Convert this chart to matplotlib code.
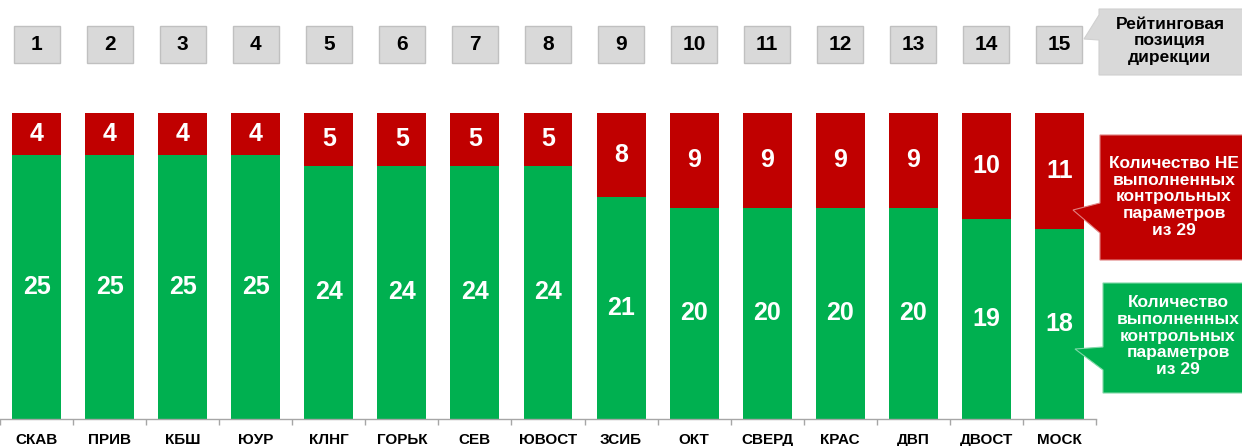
import matplotlib
matplotlib.use("Agg")
import matplotlib.pyplot as plt
from matplotlib.patches import Rectangle, Polygon
import matplotlib.transforms as mtransforms
import numpy as np

plt.rcParams['font.family'] = ['Liberation Sans', 'DejaVu Sans']

categories = ["СКАВ", "ПРИВ", "КБШ", "ЮУР", "КЛНГ", "ГОРЬК", "СЕВ", "ЮВОСТ",
              "ЗСИБ", "ОКТ", "СВЕРД", "КРАС", "ДВП", "ДВОСТ", "МОСК"]
done = [25, 25, 25, 25, 24, 24, 24, 24, 21, 20, 20, 20, 20, 19, 18]
not_done = [4, 4, 4, 4, 5, 5, 5, 5, 8, 9, 9, 9, 9, 10, 11]
ranks = [1, 2, 3, 4, 5, 6, 7, 8, 9, 10, 11, 12, 13, 14, 15]

legend_rank = "Рейтинговая\nпозиция\nдирекции"
legend_red = "Количество НЕ\nвыполненных\nконтрольных\nпараметров\nиз 29"
legend_green = "Количество\nвыполненных\nконтрольных\nпараметров\nиз 29"

GREEN = "#00b050"
RED = "#c00000"
GREY = "#d9d9d9"

W, H = 1242, 446
fig = plt.figure(figsize=(W / 100, H / 100), dpi=100)

# main axes: baseline at y=419 px, right edge at x=1096 px
ax = fig.add_axes([0, (H - 419) / H, 1096 / W, 419 / H])
px_per_unit = 306 / 29.0
ax.set_ylim(0, 419 / px_per_unit)
ax.set_xlim(-0.5, len(categories) - 0.5)

x = np.arange(len(categories))
bw = 0.67
ax.bar(x, done, width=bw, color=GREEN, edgecolor="none")
ax.bar(x, not_done, width=bw, bottom=done, color=RED, edgecolor="none")

for xi, d, n in zip(x, done, not_done):
    ax.text(xi, d / 2, str(d), ha="center", va="center", color="white",
            fontsize=18, fontweight="bold")
    ax.text(xi, d + n / 2, str(n), ha="center", va="center", color="white",
            fontsize=18, fontweight="bold")

trans = mtransforms.blended_transform_factory(ax.transData, ax.transAxes)

# rank boxes
y0 = (419 - 63) / 419
y1 = (419 - 26) / 419
rw = 0.63
for xi, r in zip(x, ranks):
    ax.add_patch(Rectangle((xi - rw / 2, y0), rw, y1 - y0, transform=trans,
                           facecolor=GREY, edgecolor="#c0c0c0", linewidth=1,
                           clip_on=False))
    ax.text(xi, (y0 + y1) / 2, str(r), transform=trans, ha="center",
            va="center", fontsize=15, fontweight="bold", color="black")

# axes styling
for s in ["top", "right", "left"]:
    ax.spines[s].set_visible(False)
ax.spines["bottom"].set_color("#a6a6a6")
ax.spines["bottom"].set_linewidth(1)
ax.set_yticks([])
ax.set_xticks(x)
ax.set_xticklabels([])
ax.tick_params(axis="x", which="major", length=0)
ax.set_xticks(np.arange(len(categories) + 1) - 0.5, minor=True)
ax.tick_params(axis="x", which="minor", length=4, color="#a6a6a6", width=1)

# category labels on common baseline
base_y = -(444 - 419) / 419
for xi, c in zip(x, categories):
    ax.text(xi, base_y, c, transform=trans, ha="center", va="baseline",
            fontsize=11, fontweight="bold", color="black", clip_on=False)

# overlay for callouts (pixel coords)
ov = fig.add_axes([0, 0, 1, 1])
ov.set_xlim(0, W)
ov.set_ylim(H, 0)
ov.axis("off")
ov.patch.set_alpha(0)

grey_poly = [(1099, 9), (1245, 9), (1245, 75), (1099, 75), (1099, 40),
             (1084, 39), (1099, 15)]
ov.add_patch(Polygon(grey_poly, closed=True, facecolor=GREY,
                     edgecolor="#d0d0d0", linewidth=0.8))
ov.text(1170, 41, legend_rank, ha="center", va="center", fontsize=12.5,
        fontweight="bold", color="black", linespacing=1.15)

red_poly = [(1100, 135), (1245, 135), (1245, 260), (1100, 260), (1100, 233),
            (1073, 210), (1100, 203)]
ov.add_patch(Polygon(red_poly, closed=True, facecolor=RED,
                     edgecolor="#e08080", linewidth=0.8))
ov.text(1174, 197, legend_red, ha="center", va="center", fontsize=12.5,
        fontweight="bold", color="white", linespacing=1.15)

green_poly = [(1103, 283), (1245, 283), (1245, 393), (1103, 393), (1103, 370),
              (1075, 349), (1103, 347)]
ov.add_patch(Polygon(green_poly, closed=True, facecolor=GREEN,
                     edgecolor="#80d8a8", linewidth=0.8))
ov.text(1178, 336, legend_green, ha="center", va="center", fontsize=12.5,
        fontweight="bold", color="white", linespacing=1.15)

fig.savefig("out.png", dpi=100, facecolor="white")
